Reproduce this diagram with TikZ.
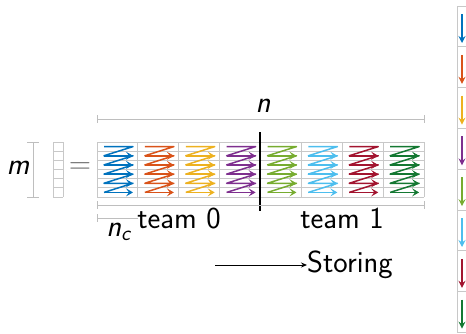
\documentclass[tikz,border=0pt]{standalone}
\usetikzlibrary{arrows.meta}
\definecolor{mb}{RGB}{0,114,189}
\definecolor{mo}{RGB}{217,83,25}
\definecolor{my}{RGB}{237,177,32}
\definecolor{mp}{RGB}{126,47,142}
\definecolor{mg}{RGB}{119,172,48}
\definecolor{mc}{RGB}{77,190,238}
\definecolor{mr}{RGB}{162,20,47}
\definecolor{mdg}{RGB}{20,120,50}
\definecolor{gridc}{RGB}{200,200,200}
\definecolor{brc}{RGB}{190,190,190}
\begin{document}
\begin{tikzpicture}[x=1pt,y=-1pt,
  font=\sffamily\fontsize{30.5}{34}\selectfont,
  cellline/.style={draw=gridc,line width=0.8pt},
  bracket/.style={draw=brc,line width=1pt},
  zig/.style={line width=1.5pt,line join=round},
  ziga/.style={line width=1.5pt,-{Stealth[length=7pt,width=8pt,inset=3pt]}},
  striparrow/.style={line width=1.2pt,-{Stealth[length=7pt,width=7pt,inset=2.5pt]}},
  lbl/.style={inner sep=0pt}]
\useasboundingbox (0,0) rectangle (466,333);
% main grid
\foreach \i in {0,...,6} \draw[cellline] (97,142+9.167*\i) -- (424,142+9.167*\i);
\foreach \c in {0,...,8} \draw[cellline] (97+40.875*\c,142) -- (97+40.875*\c,197);
% zigzag arrows
\foreach \c/\col in {0/mb,1/mo,2/my,3/mp,4/mg,5/mc,6/mr,7/mdg} {
  \pgfmathsetmacro\xl{97+40.875*\c+7}
  \pgfmathsetmacro\xr{97+40.875*\c+36}
  \draw[zig,\col] (\xl,146.6) -- (\xr,146.6) -- (\xl,155.75) -- (\xr,155.75) -- (\xl,164.9) -- (\xr,164.9) -- (\xl,174.1) -- (\xr,174.1) -- (\xl,183.25) -- (\xr,183.25) -- (\xl,192.4);
  \foreach \y in {155.75,164.9,174.1,183.25,192.4}
    \draw[ziga,\col] (\xl,\y) -- (\xr,\y);
}
% team divider
\draw[line width=2pt,black] (260,132) -- (260,211);
% n bracket
\draw[bracket] (97,119) -- (424,119) (97,115) -- (97,123) (424,115) -- (424,123);
\node[lbl] (n) at (263,106) {\textit{n}};
% team bracket
\draw[bracket] (97,205) -- (424,205) (97,201) -- (97,209) (424,201) -- (424,209);
\node[lbl] (t0) at (179,218) {team 0};
\node[lbl] (t1) at (342,218) {team 1};
% nc bracket
\draw[bracket] (97,218) -- (138,218) (97,214) -- (97,222);
\node[lbl] (nc) at (119,232) {\textit{n}\textsubscript{\textit{c}}};
% m bracket
\draw[bracket] (33,142) -- (33,197) (27,142) -- (39,142) (27,197) -- (39,197);
\node[lbl] (m) at (18,168) {\textit{m}};
% column vector
\foreach \i in {0,...,6} \draw[cellline] (53,142+9.167*\i) -- (63,142+9.167*\i);
\draw[cellline] (53,142) -- (53,197) (63,142) -- (63,197);
\node[lbl,text=black!60] (eq) at (80,168) {=};
% storing
\coordinate (sa) at (215,265);
\node[lbl,anchor=base west] (st) at (307,272.5) {Storing};
\draw[line width=0.8pt,-{Stealth[length=6pt,width=5pt,inset=2pt]}] (sa) -- (sa -| st.west);
% right strip
\foreach \i/\col in {0/mb,1/mo,2/my,3/mp,4/mg,5/mc,6/mr,7/mdg} {
  \draw[cellline] (457,6+40.8*\i) rectangle (475,6+40.8*\i+40.8);
  \coordinate (s\i a) at (462,6+40.8*\i+8);
  \coordinate (s\i b) at (462,6+40.8*\i+37);
  \draw[striparrow,\col] (s\i a) -- (s\i b);
}
\end{tikzpicture}
\end{document}
